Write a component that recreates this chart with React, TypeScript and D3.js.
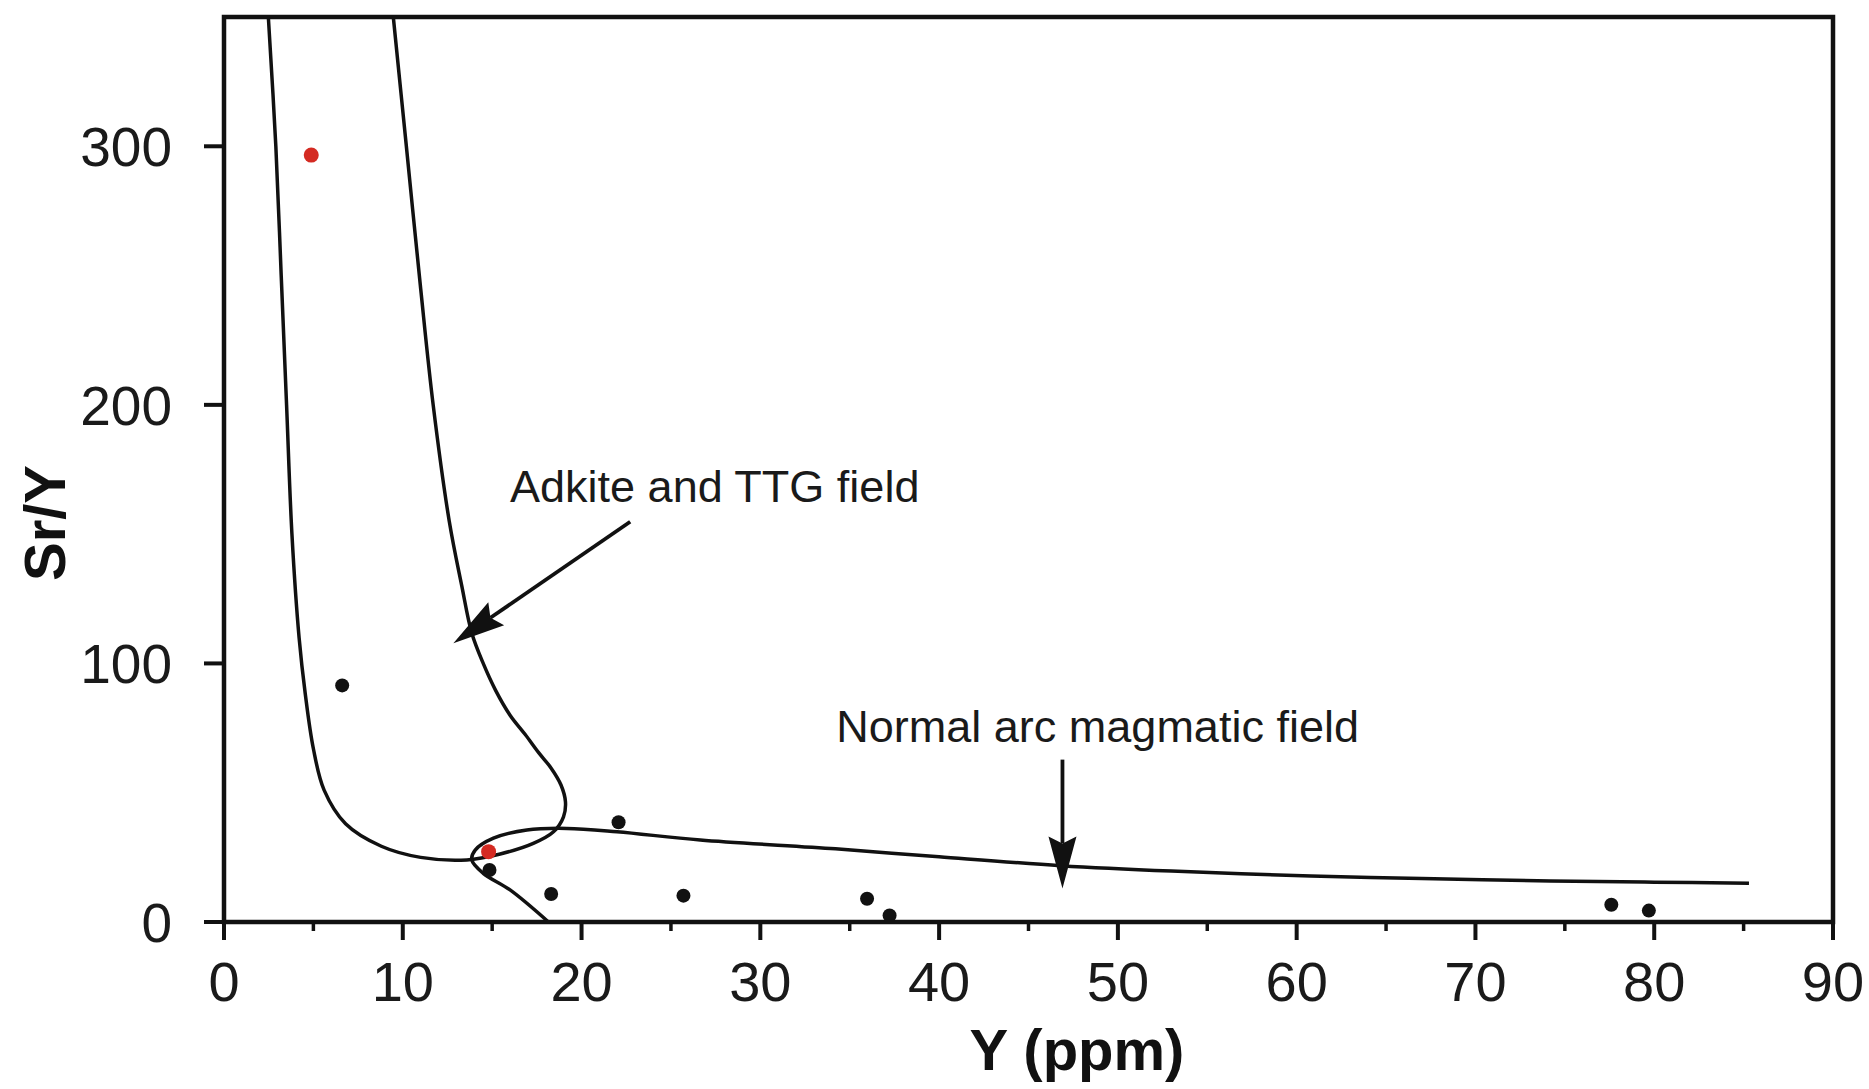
import React, { useEffect, useRef } from 'react';
import * as d3 from 'd3';

// Sr/Y vs Y discrimination diagram
const xTicks = [0, 10, 20, 30, 40, 50, 60, 70, 80, 90];
const xMinorTicks = [5, 15, 25, 35, 45, 55, 65, 75, 85];
const yTicks = [0, 100, 200, 300];

// samples
const blackY = [6.61, 14.85, 18.3, 22.07, 25.7, 35.97, 37.23, 77.6, 79.7];
const blackSrY = [91.5, 20.1, 10.8, 38.6, 10.2, 9.0, 2.5, 6.7, 4.4];
const redY = [4.88, 14.8];
const redSrY = [296.6, 27.2];

// field boundaries
const adakiteY = [2.48, 2.9, 3.2, 3.5, 3.8, 4.2, 4.55, 5.0, 5.6, 6.8, 8.8, 11.0, 13.58, 15.45, 17.3, 18.43, 18.99, 19.1, 18.85, 18.3, 17.6, 16.85, 16.0, 15.2, 14.5, 13.85, 13.3, 12.6, 11.7, 11.0, 10.2, 9.47];
const adakiteSrY = [350, 300, 250, 200, 150, 110, 88, 67, 51, 38, 29.3, 25.0, 24.0, 26.3, 30.4, 34.9, 40.7, 46.5, 53, 59.5, 65.5, 72.5, 80, 89.5, 100, 112, 130, 155, 200, 245, 300, 350];
const arcY = [18.15, 16.0, 14.5, 13.86, 14.05, 15.07, 16.94, 19.18, 21.98, 26.64, 34.2, 40, 46.8, 53, 60.8, 67, 74.2, 80, 85.3];
const arcSrY = [0, 12.4, 18.8, 24.0, 27.8, 32.4, 35.6, 36.2, 34.9, 31.7, 28.3, 25.2, 21.8, 19.7, 17.8, 16.8, 15.9, 15.4, 15.0];

const labels = ['Adkite and TTG field', 'Normal arc magmatic field'];
const labelY = [16.0, 34.25];
const labelSrY = [162.4, 69.5];
const arrowFrom = [[22.72, 154.8], [46.9, 62.8]];
const arrowTo = [[12.83, 107.8], [46.9, 13.0]];

const W = 1869;
const H = 1089;
const left = 224, right = 1833, top = 17, bottom = 922;

const App = () => {
  const ref = useRef(null);

  useEffect(() => {
    const svg = d3.select(ref.current);
    svg.selectAll('*').remove();

    const x = d3.scaleLinear().domain([0, 90]).range([left, right]);
    const y = d3.scaleLinear().domain([0, 350]).range([bottom, top]);
    const font = 'Liberation Sans, Arial, Helvetica, sans-serif';

    const line = d3
      .line()
      .x((d) => x(d[0]))
      .y((d) => y(d[1]))
      .curve(d3.curveCatmullRom.alpha(0.5));

    const g = svg.append('g');

    // field boundaries
    g.append('path')
      .attr('d', line(adakiteY.map((v, i) => [v, adakiteSrY[i]])))
      .attr('fill', 'none')
      .attr('stroke', '#111')
      .attr('stroke-width', 3.5);
    g.append('path')
      .attr('d', line(arcY.map((v, i) => [v, arcSrY[i]])))
      .attr('fill', 'none')
      .attr('stroke', '#111')
      .attr('stroke-width', 3.5);

    // arrows
    arrowFrom.forEach((f, i) => {
      const x1 = x(f[0]), y1 = y(f[1]);
      const x2 = x(arrowTo[i][0]), y2 = y(arrowTo[i][1]);
      const len = Math.hypot(x2 - x1, y2 - y1);
      const ux = (x2 - x1) / len, uy = (y2 - y1) / len;
      const hl = 52, hw = 14, notch = 7;
      const bx = x2 - ux * hl, by = y2 - uy * hl;
      g.append('line')
        .attr('x1', x1).attr('y1', y1)
        .attr('x2', x2 - ux * (hl - notch)).attr('y2', y2 - uy * (hl - notch))
        .attr('stroke', '#111')
        .attr('stroke-width', 3.8);
      g.append('path')
        .attr('d', `M${x2},${y2}L${bx - uy * hw},${by + ux * hw}L${bx + ux * notch},${by + uy * notch}L${bx + uy * hw},${by - ux * hw}Z`)
        .attr('fill', '#111');
    });

    // points
    g.selectAll('.black')
      .data(blackY)
      .enter()
      .append('circle')
      .attr('cx', (d) => x(d))
      .attr('cy', (d, i) => y(blackSrY[i]))
      .attr('r', 7)
      .attr('fill', '#111');
    g.selectAll('.red')
      .data(redY)
      .enter()
      .append('circle')
      .attr('cx', (d) => x(d))
      .attr('cy', (d, i) => y(redSrY[i]))
      .attr('r', 7.5)
      .attr('fill', '#d42a22');

    // annotation text
    labels.forEach((t, i) => {
      g.append('text')
        .attr('x', x(labelY[i]))
        .attr('y', y(labelSrY[i]))
        .attr('font-family', font)
        .attr('font-size', 45)
        .attr('fill', '#1a1a1a')
        .text(t);
    });

    // frame
    svg.append('rect')
      .attr('x', left)
      .attr('y', top)
      .attr('width', right - left)
      .attr('height', bottom - top)
      .attr('fill', 'none')
      .attr('stroke', '#111')
      .attr('stroke-width', 4.5);

    // x ticks
    svg.selectAll('.xt')
      .data(xTicks)
      .enter()
      .append('line')
      .attr('x1', (d) => x(d)).attr('x2', (d) => x(d))
      .attr('y1', bottom).attr('y2', bottom + 18)
      .attr('stroke', '#111')
      .attr('stroke-width', 4);
    svg.selectAll('.xm')
      .data(xMinorTicks)
      .enter()
      .append('line')
      .attr('x1', (d) => x(d)).attr('x2', (d) => x(d))
      .attr('y1', bottom).attr('y2', bottom + 9)
      .attr('stroke', '#111')
      .attr('stroke-width', 3.5);
    svg.selectAll('.xl')
      .data(xTicks)
      .enter()
      .append('text')
      .attr('x', (d) => x(d))
      .attr('y', 1001)
      .attr('text-anchor', 'middle')
      .attr('font-family', font)
      .attr('font-size', 56)
      .attr('fill', '#1a1a1a')
      .text((d) => d);

    // y ticks
    svg.selectAll('.yt')
      .data(yTicks)
      .enter()
      .append('line')
      .attr('x1', left - 20).attr('x2', left)
      .attr('y1', (d) => y(d)).attr('y2', (d) => y(d))
      .attr('stroke', '#111')
      .attr('stroke-width', 4);
    svg.selectAll('.yl')
      .data(yTicks)
      .enter()
      .append('text')
      .attr('x', left - 52)
      .attr('y', (d) => y(d))
      .attr('dy', '0.36em')
      .attr('text-anchor', 'end')
      .attr('font-family', font)
      .attr('font-size', 55)
      .attr('fill', '#1a1a1a')
      .text((d) => d);

    // axis titles
    svg.append('text')
      .attr('x', 1077)
      .attr('y', 1070)
      .attr('text-anchor', 'middle')
      .attr('font-family', font)
      .attr('font-weight', 'bold')
      .attr('font-size', 58)
      .attr('fill', '#111')
      .text('Y (ppm)');
    svg.append('text')
      .attr('transform', `translate(65,523) rotate(-90)`)
      .attr('text-anchor', 'middle')
      .attr('font-family', font)
      .attr('font-weight', 'bold')
      .attr('font-size', 58)
      .attr('fill', '#111')
      .text('Sr/Y');
  }, []);

  return (
    <svg
      ref={ref}
      width={W}
      height={H}
      style={{ position: 'absolute', left: 0, top: 0, background: '#fff' }}
    ></svg>
  );
};

export default App;
